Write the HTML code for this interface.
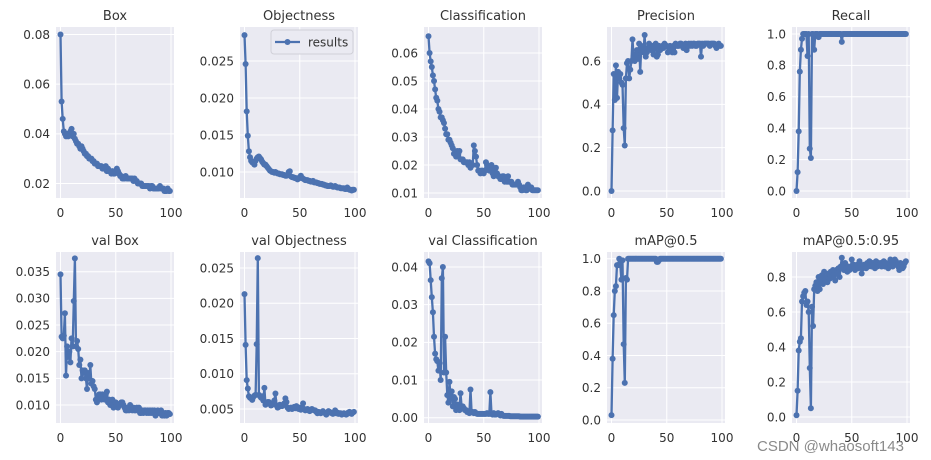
<!DOCTYPE html>
<html><head><meta charset="utf-8"><style>
body{margin:0;background:#fff;}
svg{display:block;font-family:"DejaVu Sans","Liberation Sans",sans-serif;}
</style></head><body>
<svg id="fig" width="931" height="460" viewBox="0 0 931 460"></svg>
<script>
const epochs100 = 100;
const boxLoss = [0.080,0.053,0.046,0.041,0.040,0.039,0.040,0.039,0.040,0.041,0.042,0.039,0.040,0.038,0.037,0.036,0.036,0.035,0.034,0.035,0.034,0.033,0.032,0.032,0.031,0.031,0.030,0.030,0.030,0.029,0.029,0.028,0.028,0.028,0.027,0.027,0.027,0.027,0.026,0.026,0.026,0.027,0.025,0.026,0.025,0.025,0.024,0.025,0.024,0.024,0.025,0.026,0.025,0.024,0.023,0.023,0.022,0.022,0.022,0.023,0.022,0.022,0.022,0.022,0.022,0.022,0.021,0.022,0.021,0.021,0.020,0.020,0.020,0.020,0.019,0.019,0.019,0.019,0.019,0.019,0.019,0.018,0.019,0.019,0.018,0.018,0.018,0.018,0.018,0.018,0.019,0.018,0.018,0.018,0.017,0.017,0.017,0.018,0.017,0.017];
const objLoss = [0.0285,0.0246,0.0182,0.0149,0.0128,0.0120,0.0115,0.0113,0.0112,0.0110,0.0115,0.0118,0.0120,0.0121,0.0119,0.0117,0.0114,0.0112,0.0110,0.0110,0.0108,0.0106,0.0104,0.0102,0.0101,0.0100,0.0100,0.0099,0.0100,0.0099,0.0098,0.0098,0.0097,0.0097,0.0097,0.0096,0.0096,0.0095,0.0095,0.0096,0.0100,0.0101,0.0094,0.0093,0.0093,0.0092,0.0092,0.0091,0.0090,0.0091,0.0093,0.0095,0.0092,0.0091,0.0090,0.0089,0.0089,0.0089,0.0088,0.0088,0.0087,0.0087,0.0088,0.0086,0.0086,0.0086,0.0085,0.0085,0.0084,0.0084,0.0084,0.0083,0.0083,0.0082,0.0082,0.0081,0.0081,0.0081,0.0082,0.0081,0.0080,0.0080,0.0081,0.0080,0.0079,0.0079,0.0079,0.0078,0.0078,0.0078,0.0078,0.0077,0.0077,0.0079,0.0077,0.0076,0.0076,0.0075,0.0076,0.0076];
const clsLoss = [0.066,0.060,0.057,0.055,0.052,0.050,0.047,0.044,0.043,0.040,0.039,0.037,0.037,0.036,0.035,0.033,0.031,0.031,0.029,0.029,0.028,0.027,0.026,0.024,0.024,0.023,0.025,0.024,0.025,0.022,0.022,0.022,0.021,0.021,0.021,0.021,0.020,0.021,0.019,0.020,0.020,0.027,0.025,0.023,0.020,0.018,0.018,0.017,0.018,0.018,0.017,0.018,0.021,0.020,0.019,0.018,0.019,0.020,0.017,0.016,0.018,0.019,0.017,0.016,0.016,0.015,0.015,0.016,0.016,0.014,0.015,0.014,0.016,0.014,0.014,0.014,0.013,0.013,0.013,0.013,0.013,0.014,0.013,0.012,0.011,0.011,0.012,0.012,0.011,0.011,0.013,0.012,0.012,0.012,0.011,0.011,0.011,0.011,0.011,0.011];
const precision = [0.0,0.28,0.54,0.42,0.58,0.43,0.55,0.52,0.54,0.50,0.49,0.29,0.21,0.52,0.59,0.60,0.52,0.56,0.60,0.70,0.62,0.60,0.63,0.65,0.61,0.68,0.55,0.67,0.66,0.64,0.72,0.62,0.64,0.66,0.68,0.66,0.65,0.67,0.63,0.66,0.68,0.62,0.63,0.67,0.65,0.66,0.67,0.66,0.68,0.67,0.67,0.64,0.66,0.67,0.65,0.64,0.67,0.64,0.68,0.67,0.67,0.67,0.68,0.68,0.67,0.66,0.67,0.68,0.65,0.67,0.68,0.67,0.68,0.67,0.68,0.68,0.67,0.67,0.68,0.68,0.68,0.62,0.68,0.67,0.68,0.68,0.68,0.68,0.68,0.67,0.68,0.68,0.68,0.68,0.67,0.66,0.67,0.68,0.67,0.67];
const recall = [0.0,0.12,0.38,0.76,0.90,0.97,1,1,1,1,0.86,1,0.27,0.21,1,1,0.90,1,1,1,0.98,1,1,1,1,1,1,1,1,1,1,1,1,1,1,1,1,1,1,1,1,0.95,1,1,1,1,1,1,1,1,1,1,1,1,1,1,1,1,1,1,1,1,1,1,1,1,1,1,1,1,1,1,1,1,1,1,1,1,1,1,1,1,1,1,1,1,1,1,1,1,1,1,1,1,1,1,1,1,1,1];
const valBox = [0.0345,0.0228,0.0225,0.0230,0.0272,0.0155,0.0210,0.0190,0.0200,0.0180,0.0225,0.0210,0.0295,0.0375,0.0210,0.0220,0.0205,0.0175,0.0185,0.0150,0.0165,0.0160,0.0165,0.0150,0.0130,0.0160,0.0150,0.0175,0.0140,0.0145,0.0135,0.0130,0.0110,0.0105,0.0115,0.0120,0.0120,0.0110,0.0120,0.0115,0.0110,0.0120,0.0125,0.0105,0.0110,0.0100,0.0105,0.0110,0.0095,0.0100,0.0105,0.0100,0.0095,0.0100,0.0100,0.0105,0.0105,0.0100,0.0095,0.0090,0.0090,0.0095,0.0090,0.0100,0.0095,0.0090,0.0095,0.0090,0.0090,0.0095,0.0090,0.0095,0.0085,0.0085,0.0090,0.0085,0.0090,0.0090,0.0085,0.0090,0.0085,0.0090,0.0085,0.0090,0.0085,0.0090,0.0080,0.0085,0.0090,0.0085,0.0085,0.0090,0.0080,0.0085,0.0080,0.0085,0.0080,0.0085,0.0085,0.0083];
const valObj = [0.0213,0.0141,0.0091,0.0079,0.0068,0.0066,0.0065,0.0063,0.0067,0.0069,0.0070,0.0142,0.0264,0.0070,0.0068,0.0066,0.0068,0.0062,0.0080,0.0056,0.0058,0.0060,0.0060,0.0057,0.0055,0.0056,0.0058,0.0062,0.0072,0.0055,0.0052,0.0053,0.0056,0.0055,0.0054,0.0056,0.0058,0.0065,0.0060,0.0052,0.0050,0.0051,0.0052,0.0050,0.0052,0.0053,0.0051,0.0054,0.0052,0.0050,0.0052,0.0049,0.0050,0.0058,0.0050,0.0048,0.0049,0.0050,0.0048,0.0047,0.0049,0.0050,0.0049,0.0048,0.0048,0.0046,0.0044,0.0046,0.0045,0.0044,0.0046,0.0047,0.0045,0.0044,0.0042,0.0044,0.0047,0.0046,0.0045,0.0044,0.0043,0.0045,0.0048,0.0044,0.0045,0.0043,0.0044,0.0044,0.0042,0.0043,0.0044,0.0043,0.0042,0.0043,0.0045,0.0046,0.0044,0.0043,0.0045,0.0046];
const valCls = [0.0415,0.041,0.0365,0.032,0.028,0.0215,0.017,0.0155,0.015,0.0125,0.0145,0.010,0.037,0.040,0.012,0.0215,0.012,0.006,0.004,0.0095,0.0050,0.0070,0.0030,0.0055,0.0050,0.0020,0.0035,0.0025,0.0020,0.0065,0.0030,0.0030,0.0025,0.0020,0.0020,0.0015,0.0015,0.0012,0.0075,0.0015,0.0015,0.0012,0.0015,0.0012,0.0010,0.0010,0.0010,0.0010,0.0010,0.0010,0.0010,0.0010,0.0010,0.0012,0.0010,0.0010,0.0068,0.0010,0.0008,0.0012,0.0008,0.0008,0.0010,0.0012,0.0008,0.0006,0.0010,0.0006,0.0005,0.0005,0.0005,0.0005,0.0005,0.0005,0.0004,0.0004,0.0004,0.0004,0.0004,0.0004,0.0004,0.0004,0.0004,0.0003,0.0003,0.0003,0.0003,0.0003,0.0003,0.0003,0.0003,0.0003,0.0003,0.0003,0.0003,0.0003,0.0003,0.0003,0.0003,0.0003];
const map50 = [0.03,0.38,0.65,0.80,0.83,0.96,0.96,1.0,0.96,0.87,0.99,0.47,0.23,0.88,0.87,1,1,1,1,1,1,1,1,1,1,1,1,1,1,1,1,1,1,1,1,1,1,1,1,1,1,0.98,0.98,0.99,1,1,1,1,1,1,1,1,1,1,1,1,1,1,1,1,1,1,1,1,1,1,1,1,1,1,1,1,1,1,1,1,1,1,1,1,1,1,1,1,1,1,1,1,1,1,1,1,1,1,1,1,1,1,1,1];
const map5095 = [0.01,0.15,0.38,0.43,0.45,0.66,0.69,0.71,0.72,0.64,0.66,0.60,0.28,0.05,0.63,0.52,0.73,0.75,0.77,0.72,0.80,0.73,0.78,0.81,0.76,0.83,0.78,0.80,0.77,0.82,0.79,0.83,0.80,0.84,0.81,0.78,0.84,0.82,0.85,0.80,0.86,0.91,0.86,0.84,0.88,0.85,0.83,0.86,0.84,0.85,0.90,0.85,0.87,0.84,0.86,0.87,0.85,0.89,0.86,0.82,0.85,0.87,0.86,0.85,0.88,0.86,0.89,0.87,0.86,0.88,0.87,0.85,0.89,0.86,0.88,0.87,0.88,0.86,0.87,0.89,0.86,0.88,0.87,0.85,0.88,0.90,0.87,0.86,0.88,0.90,0.89,0.87,0.86,0.84,0.88,0.87,0.85,0.86,0.88,0.89];
const xTicks = [0,50,100];

const panels = [
 {name:'box',title:'Box',data:boxLoss,left:56,top:27,bottom:198,v1:0.08,p1:34.5,v2:0.02,p2:183.5,ticks:[0.02,0.04,0.06,0.08],dec:2},
 {name:'objectness',title:'Objectness',data:objLoss,left:240,top:27,bottom:198,v1:0.025,p1:61,v2:0.010,p2:172,ticks:[0.010,0.015,0.020,0.025],dec:3,legend:true},
 {name:'classification',title:'Classification',data:clsLoss,left:424,top:27,bottom:198,v1:0.06,p1:53,v2:0.01,p2:193,ticks:[0.01,0.02,0.03,0.04,0.05,0.06],dec:2},
 {name:'precision',title:'Precision',data:precision,left:607,top:27,bottom:198,v1:0.6,p1:61,v2:0,p2:191,ticks:[0,0.2,0.4,0.6],dec:1},
 {name:'recall',title:'Recall',data:recall,left:792,top:27,bottom:198,v1:1,p1:34,v2:0,p2:191,ticks:[0,0.2,0.4,0.6,0.8,1.0],dec:1},
 {name:'val-box',title:'val Box',data:valBox,left:56,top:252,bottom:423,v1:0.035,p1:271.7,v2:0.010,p2:405,ticks:[0.010,0.015,0.020,0.025,0.030,0.035],dec:3},
 {name:'val-objectness',title:'val Objectness',data:valObj,left:240,top:252,bottom:423,v1:0.025,p1:268,v2:0.005,p2:409,ticks:[0.005,0.010,0.015,0.020,0.025],dec:3},
 {name:'val-classification',title:'val Classification',data:valCls,left:424,top:252,bottom:423,v1:0.04,p1:267,v2:0,p2:417.7,ticks:[0,0.01,0.02,0.03,0.04],dec:2},
 {name:'map50',title:'mAP@0.5',data:map50,left:607,top:252,bottom:423,v1:1,p1:258.7,v2:0,p2:420,ticks:[0,0.2,0.4,0.6,0.8,1.0],dec:1},
 {name:'map50-95',title:'mAP@0.5:0.95',data:map5095,left:792,top:252,bottom:423,v1:0.8,p1:277,v2:0,p2:417,ticks:[0,0.2,0.4,0.6,0.8],dec:1}
];
const NS='http://www.w3.org/2000/svg';
const svg=document.getElementById('fig');
function mk(tag,attrs,parent){const e=document.createElementNS(NS,tag);for(const k in attrs)e.setAttribute(k,attrs[k]);(parent||svg).appendChild(e);return e;}
const W=118;
panels.forEach(p=>{
  const g=mk('g',{});
  
  
  const xs=v=>p.left+4.5+v*1.105;
  const ys=v=>p.p2+(v-p.v2)*(p.p1-p.p2)/(p.v1-p.v2);
  const bg=mk('rect',{x:p.left,y:p.top,width:W,height:p.bottom-p.top,fill:'#eaeaf2'},g);
  
  
  xTicks.forEach(t=>{
    const x=xs(t);
    mk('line',{x1:x,x2:x,y1:p.top,y2:p.bottom,stroke:'#fff','stroke-width':1},g);
    const tl=mk('text',{x:x,y:p.bottom+19,'text-anchor':'middle','font-size':12,fill:'#333'},g);
    tl.textContent=t;
    
    
  });
  p.ticks.forEach(t=>{
    const y=ys(t);
    mk('line',{x1:p.left,x2:p.left+W,y1:y,y2:y,stroke:'#fff','stroke-width':1},g);
    const tl=mk('text',{x:p.left-6,y:y+4.3,'text-anchor':'end','font-size':12,fill:'#333'},g);
    tl.textContent=t.toFixed(p.dec);
    
    
  });
  const tt=mk('text',{x:p.left+W/2,y:p.top-7,'text-anchor':'middle','font-size':13,fill:'#333'},g);
  tt.textContent=p.title;
  
  
  const pts=p.data.map((v,i)=>xs(i).toFixed(1)+','+ys(v).toFixed(1)).join(' ');
  const line=mk('polyline',{points:pts,fill:'none',stroke:'#4c72b0','stroke-width':2.3,'stroke-linejoin':'round'},g);
  
  
  p.data.forEach((v,i)=>{
    const c=mk('circle',{cx:xs(i),cy:ys(v),r:3,fill:'#4c72b0'},g);
    
    
  });
  if(p.legend){
    const lg=mk('g',{},g);
    
    
    mk('rect',{x:271,y:30,width:82,height:24,rx:3,fill:'#eaeaf2',stroke:'#d0d0d8'},lg);
    mk('line',{x1:275,x2:300,y1:42,y2:42,stroke:'#4c72b0','stroke-width':2.3},lg);
    mk('circle',{cx:287.5,cy:42,r:3,fill:'#4c72b0'},lg);
    const lt=mk('text',{x:308,y:46.5,'font-size':12,fill:'#333'},lg);
    lt.textContent='results';
    
    
  }
});
const wm=mk('text',{x:757,y:451,'font-size':15,fill:'#8a8a8a','font-family':'Liberation Sans, sans-serif'});
wm.textContent='CSDN @whaosoft143';


</script>
</body></html>
